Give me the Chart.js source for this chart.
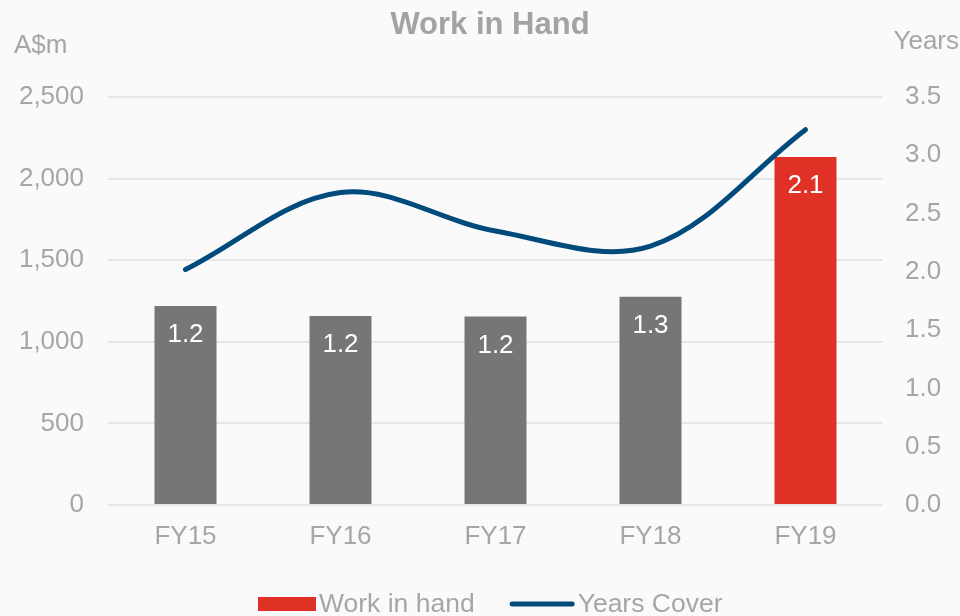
<!DOCTYPE html>
<html>
<head>
<meta charset="utf-8">
<script src="https://cdn.jsdelivr.net/npm/chart.js@4/dist/chart.umd.min.js"></script>
<style>
  html, body { margin: 0; padding: 0; background: #fafafa; }
  #wrap { width: 960px; height: 616px; position: relative; }
</style>
</head>
<body>
<div id="wrap"><canvas id="c" width="960" height="616"></canvas></div>
<script>
const categories = ['FY15', 'FY16', 'FY17', 'FY18', 'FY19'];
const workInHand = [1220, 1158, 1155, 1276, 2132];          // A$m
const workInHandLabels = ['1.2', '1.2', '1.2', '1.3', '2.1']; // A$bn labels
const yearsCover = [2.02, 2.68, 2.35, 2.22, 3.22];           // years
const leftTicks = [0, 500, 1000, 1500, 2000, 2500];
const rightTicks = [0, 0.5, 1.0, 1.5, 2.0, 2.5, 3.0, 3.5];

const GRAY_TEXT = '#a6a6a6';
const BAR_GRAY = '#767674';
const BAR_RED = '#e03127';
const LINE_BLUE = '#004a7c';
const FONT = '"Liberation Sans", Arial, sans-serif';

const barColors = workInHand.map((v, i) => i === workInHand.length - 1 ? BAR_RED : BAR_GRAY);

const decorPlugin = {
  id: 'decor',
  beforeDraw(chart) {
    const ctx = chart.ctx;
    ctx.save();
    ctx.fillStyle = '#fafafa';
    ctx.fillRect(0, 0, chart.width, chart.height);
    ctx.restore();
  },
  afterDatasetsDraw(chart) {
    const ctx = chart.ctx;
    ctx.save();
    const meta = chart.getDatasetMeta(0);
    ctx.font = '26px ' + FONT;
    ctx.fillStyle = '#ffffff';
    ctx.textAlign = 'center';
    ctx.textBaseline = 'middle';
    meta.data.forEach((bar, i) => {
      ctx.fillText(workInHandLabels[i], bar.x, bar.y + 29);
    });
    ctx.restore();
  },
  afterDraw(chart) {
    const ctx = chart.ctx;
    ctx.save();
    // title
    ctx.font = 'bold 31px ' + FONT;
    ctx.fillStyle = '#a3a3a3';
    ctx.textAlign = 'center';
    ctx.textBaseline = 'middle';
    ctx.fillText('Work in Hand', 490, 25);
    // axis unit labels
    ctx.font = '26px ' + FONT;
    ctx.fillStyle = GRAY_TEXT;
    ctx.textAlign = 'left';
    ctx.fillText('A$m', 14, 46);
    ctx.textAlign = 'right';
    ctx.fillText('Years', chart.width - 1, 42);
    // legend
    const ly = 604;
    ctx.font = '26.5px ' + FONT;
    ctx.textBaseline = 'middle';
    ctx.textAlign = 'left';
    const t1 = 'Work in hand', t2 = 'Years Cover';
    const w1 = ctx.measureText(t1).width;
    const boxW = 58, lineW = 65, gap = 3, itemGap = 35;
    let x = 258;
    ctx.fillStyle = BAR_RED;
    ctx.fillRect(x, ly - 7, boxW, 14);
    x += boxW + gap;
    ctx.fillStyle = GRAY_TEXT;
    ctx.fillText(t1, x, ly + 1);
    x += w1 + itemGap;
    ctx.strokeStyle = LINE_BLUE;
    ctx.lineWidth = 5;
    ctx.lineCap = 'round';
    ctx.beginPath();
    ctx.moveTo(x + 2.5, ly);
    ctx.lineTo(x + lineW - 2.5, ly);
    ctx.stroke();
    x += lineW + gap;
    ctx.fillText(t2, x, ly + 1);
    ctx.restore();
  }
};

new Chart(document.getElementById('c'), {
  type: 'bar',
  data: {
    labels: categories,
    datasets: [
      {
        type: 'bar',
        label: 'Work in hand',
        data: workInHand,
        backgroundColor: barColors,
        borderWidth: 0,
        yAxisID: 'y',
        barPercentage: 0.4,
        categoryPercentage: 1.0,
        order: 2
      },
      {
        type: 'line',
        label: 'Years Cover',
        data: yearsCover,
        borderColor: LINE_BLUE,
        borderWidth: 5,
        borderCapStyle: 'round',
        pointRadius: 0,
        tension: 0.35,
        fill: false,
        yAxisID: 'y1',
        order: 1
      }
    ]
  },
  options: {
    responsive: false,
    animation: false,
    devicePixelRatio: 1,
    layout: { padding: { top: 97, bottom: 65, left: 0, right: 0 } },
    plugins: {
      legend: { display: false },
      title: { display: false },
      tooltip: { enabled: false }
    },
    scales: {
      x: {
        grid: { display: false, drawTicks: false },
        border: { display: false },
        ticks: { color: GRAY_TEXT, font: { family: FONT, size: 26 }, padding: 16 },
        afterFit(s) { s.height = 46; }
      },
      y: {
        position: 'left',
        min: 0, max: 2500,
        afterBuildTicks(s) { s.ticks = leftTicks.map(v => ({ value: v })); },
        grid: { color: '#e6e6e6', lineWidth: 2, drawTicks: false },
        border: { display: false },
        ticks: {
          color: GRAY_TEXT, font: { family: FONT, size: 26 }, padding: 24,
          callback: v => v.toLocaleString('en-US')
        },
        afterFit(s) { s.width = 108; }
      },
      y1: {
        position: 'right',
        min: 0, max: 3.5,
        afterBuildTicks(s) { s.ticks = rightTicks.map(v => ({ value: v })); },
        grid: { display: false, drawTicks: false },
        border: { display: false },
        ticks: {
          color: GRAY_TEXT, font: { family: FONT, size: 26 }, padding: 22,
          callback: v => Number(v).toFixed(1)
        },
        afterFit(s) { s.width = 77; }
      }
    }
  },
  plugins: [decorPlugin]
});
</script>
</body>
</html>
